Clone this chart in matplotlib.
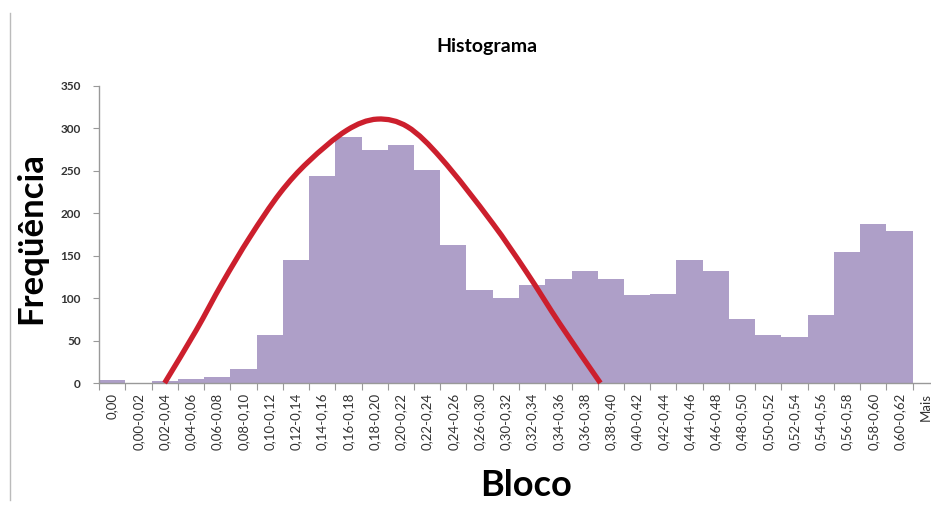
import numpy as np
import matplotlib
matplotlib.use("Agg")
import matplotlib.pyplot as plt
from matplotlib.path import Path
from matplotlib.patches import PathPatch

# ── Datos ──────────────────────────────────────────────────────────────────
blocos = ["0,00", "0,00-0,02", "0,02-0,04", "0,04-0,06", "0,06-0,08",
          "0,08-0,10", "0,10-0,12", "0,12-0,14", "0,14-0,16", "0,16-0,18",
          "0,18-0,20", "0,20-0,22", "0,22-0,24", "0,24-0,26", "0,26-0,30",
          "0,30-0,32", "0,32-0,34", "0,34-0,36", "0,36-0,38", "0,38-0,40",
          "0,40-0,42", "0,42-0,44", "0,44-0,46", "0,46-0,48", "0,48-0,50",
          "0,50-0,52", "0,52-0,54", "0,54-0,56", "0,56-0,58", "0,58-0,60",
          "0,60-0,62", "Mais"]
frequencia = [3, 0, 2, 5, 7, 17, 57, 145, 244, 290, 274, 281, 251, 163, 110,
              100, 116, 122, 132, 122, 104, 105, 145, 132, 76, 56, 54, 80,
              154, 187, 179, 0]

# curva desenhada à mão (posição em categorias, frequência)
curva_x = [2.0, 3.2, 4.2, 5.25, 6.4, 7.45, 8.95, 10.1, 11.25, 12.5,
           14.5, 15.8, 17.05, 18.6]
curva_y = [0, 62, 118, 172, 224, 260, 298, 311, 302, 266, 188, 130, 70, 0]

yticks = [0, 50, 100, 150, 200, 250, 300, 350]

plt.rcParams["font.family"] = ["Lato", "DejaVu Sans"]

fig = plt.figure(figsize=(9.31, 5.16), dpi=100)
ax = fig.add_axes([99 / 931, 1 - 383 / 516, 840 / 931, 297 / 516])

x = np.arange(len(blocos))
ax.bar(x, frequencia, width=1.0, color="#ae9fc8", edgecolor="none", zorder=2)


def hermite_path(px, py):
    """Curva suave y(x) passando pelos pontos (segmentos Bezier cúbicos)."""
    px, py = np.asarray(px, float), np.asarray(py, float)
    n = len(px)
    d = np.empty(n)
    d[0] = (py[1] - py[0]) / (px[1] - px[0])
    d[-1] = (py[-1] - py[-2]) / (px[-1] - px[-2])
    d[1:-1] = (py[2:] - py[:-2]) / (px[2:] - px[:-2])
    verts = [(px[0], py[0])]
    codes = [Path.MOVETO]
    for i in range(n - 1):
        h = px[i + 1] - px[i]
        verts += [(px[i] + h / 3, py[i] + d[i] * h / 3),
                  (px[i + 1] - h / 3, py[i + 1] - d[i + 1] * h / 3),
                  (px[i + 1], py[i + 1])]
        codes += [Path.CURVE4] * 3
    return Path(verts, codes)


ax.add_patch(PathPatch(hermite_path(curva_x, curva_y), facecolor="none",
                       edgecolor="#cc1f2d", lw=3.8, capstyle="butt",
                       zorder=3, clip_on=False))

ax.set_xlim(-0.5, len(blocos) - 0.5)
ax.set_ylim(0, 350)

# ticks nos limites das categorias, rótulos no centro
ax.set_xticks(np.arange(len(blocos) + 1) - 0.5)
ax.set_xticklabels([])
ax.set_xticks(x, minor=True)
ax.set_xticklabels(blocos, minor=True, rotation=90, fontsize=9.5,
                   color="#333333")
ax.tick_params(axis="x", which="major", length=5, color="#999999",
               direction="out")
ax.tick_params(axis="x", which="minor", length=0, pad=7)

ax.set_yticks(yticks)
ax.set_yticklabels([str(v) for v in yticks], fontsize=8.5, color="#333333",
                   fontweight="bold")
ax.tick_params(axis="y", length=4, color="#999999", pad=9)

for s in ("top", "right"):
    ax.spines[s].set_visible(False)
for s in ("left", "bottom"):
    ax.spines[s].set_color("#999999")
    ax.spines[s].set_linewidth(1)

fig.text(487 / 931, 1 - 47 / 516, "Histograma", ha="center", va="center",
         fontsize=14, fontweight="bold")
fig.text(31 / 931, 1 - 238 / 516, "Freqüência", ha="center", va="center",
         rotation=90, fontsize=25, fontweight="bold",
         bbox=dict(facecolor="white", edgecolor="none", pad=2))
fig.text(526 / 931, 1 - 485 / 516, "Bloco", ha="center", va="center",
         fontsize=26, fontweight="bold")

# borda esquerda da área do gráfico
fig.add_artist(plt.Line2D([10 / 931, 10 / 931], [1 - 500 / 516, 1 - 13 / 516],
                          color="#bbbbbb", lw=1, zorder=0))

fig.savefig("out.png", dpi=100)
